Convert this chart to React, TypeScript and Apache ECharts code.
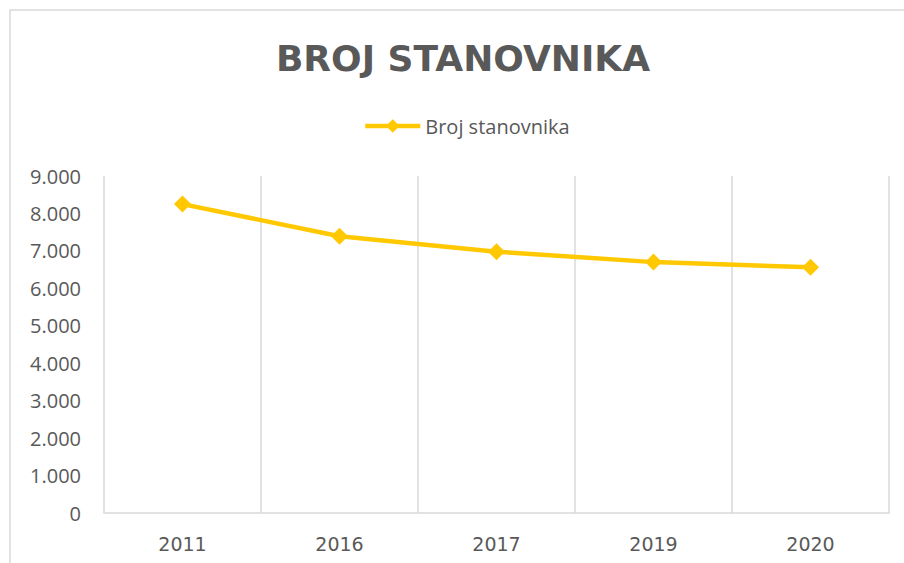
import React, { useEffect, useRef } from "react";
import * as echarts from "echarts";

const categories = ["2011", "2016", "2017", "2019", "2020"];
const population = [8250, 7390, 6980, 6700, 6560];
const seriesName = "Broj stanovnika";
const titleText = "BROJ STANOVNIKA";

const fmt = (v: number) => (v === 0 ? "0" : String(v).replace(/\B(?=(\d{3})+(?!\d))/g, "."));

export default function App() {
  const ref = useRef<HTMLDivElement>(null);
  useEffect(() => {
    const chart = echarts.init(ref.current!, null, { renderer: "svg" });
    chart.setOption({
      animation: false,
      backgroundColor: "#ffffff",
      graphic: [
        {
          type: "rect",
          shape: { x: 10, y: 10, width: 920, height: 600 },
          style: { fill: "none", stroke: "#D9D9D9", lineWidth: 1.5 },
          silent: true,
        },
        {
          type: "text",
          x: 463,
          y: 58,
          style: {
            text: titleText,
            fill: "#595959",
            font: "bold 36px 'DejaVu Sans'",
            textAlign: "center",
            textVerticalAlign: "middle",
          },
        },
      ],
      legend: {
        data: [seriesName],
        left: 363,
        top: 116,
        padding: 0,
        itemWidth: 55,
        itemHeight: 17,
        itemGap: 5,
        lineStyle: { width: 4.5 },
        textStyle: { color: "#595959", fontSize: 20, fontFamily: "Open Sans" },
      },
      grid: { left: 104, right: 15, top: 176, bottom: 50, containLabel: false },
      xAxis: {
        type: "category",
        data: categories,
        boundaryGap: true,
        axisLine: { lineStyle: { color: "#D9D9D9", width: 1.5 } },
        axisTick: { show: false },
        splitLine: { show: true, interval: 0, lineStyle: { color: "#D9D9D9", width: 1.5 } },
        axisLabel: { color: "#595959", fontSize: 19, fontFamily: "DejaVu Sans", margin: 21 },
      },
      yAxis: {
        type: "value",
        min: 0,
        max: 9000,
        interval: 1000,
        axisLine: { show: false },
        axisTick: { show: false },
        splitLine: { show: false },
        axisLabel: {
          color: "#595959",
          fontSize: 20,
          fontFamily: "Open Sans",
          margin: 23,
          formatter: (v: number) => fmt(v),
        },
      },
      series: [
        {
          name: seriesName,
          type: "line",
          data: population,
          symbol: "diamond",
          symbolSize: 17,
          lineStyle: { color: "#FFC800", width: 4.5 },
          itemStyle: { color: "#FFC800" },
        },
      ],
    });
    return () => chart.dispose();
  }, []);
  return (
    <div
      ref={ref}
      style={{ position: "absolute", left: 0, top: 0, width: 904, height: 563 }}
    />
  );
}
